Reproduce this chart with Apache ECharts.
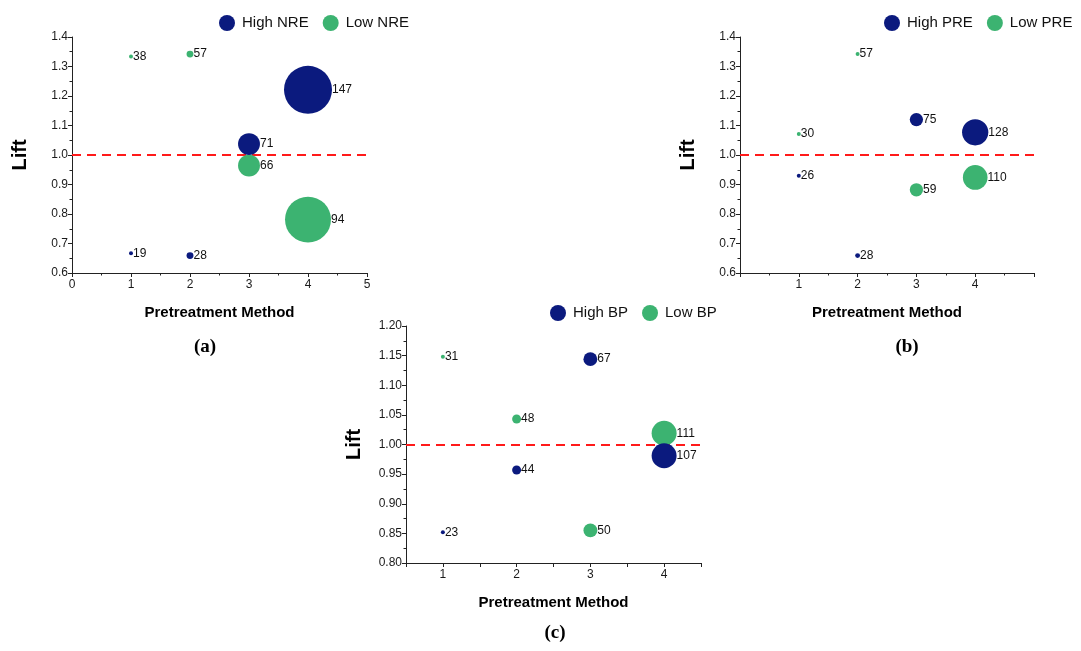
<!DOCTYPE html>
<html>
<head>
<meta charset="utf-8">
<script src="https://cdn.jsdelivr.net/npm/echarts@6/dist/echarts.min.js"></script>
<style>
html,body{margin:0;padding:0;background:#fff;}
#chart{width:1081px;height:651px;}
</style>
</head>
<body>
<div id="chart"></div>
<script>
// ---- data ----
var methods = [1, 2, 3, 4];

// panel (a) NRE
var liftHighNRE = [0.667, 0.659, 1.037, 1.221];
var labelHighNRE = [19, 28, 71, 147];
var weightHighNRE = [1, 3, 30, 144];
var liftLowNRE = [1.334, 1.342, 0.964, 0.781];
var labelLowNRE = [38, 57, 66, 94];
var weightLowNRE = [1, 3, 30, 132];

// panel (b) PRE
var liftHighPRE = [0.930, 0.659, 1.120, 1.077];
var labelHighPRE = [26, 28, 75, 128];
var weightHighPRE = [1, 1.5, 11, 43];
var liftLowPRE = [1.071, 1.342, 0.882, 0.924];
var labelLowPRE = [30, 57, 59, 110];
var weightLowPRE = [1, 1, 11, 38];

// panel (c) BP
var liftHighBP = [0.852, 0.957, 1.144, 0.981];
var labelHighBP = [23, 44, 67, 107];
var weightHighBP = [1, 5, 12, 39];
var liftLowBP = [1.148, 1.043, 0.855, 1.019];
var labelLowBP = [31, 48, 50, 111];
var weightLowBP = [1, 5, 12, 39];

var refLift = 1.0;
var panelTags = ['(a)', '(b)', '(c)'];

// ---- styles ----
var NAVY = '#0b1a7e';
var GREEN = '#3cb371';
var FONT = 'Liberation Sans, Arial, sans-serif';

function pts(ys, labels, weights) {
  return methods.map(function (m, i) { return [m, ys[i], labels[i], weights[i]]; });
}

function bubble(name, color, data, idx, withLine) {
  var s = {
    name: name,
    type: 'scatter',
    xAxisIndex: idx,
    yAxisIndex: idx,
    data: data,
    symbol: 'circle',
    symbolSize: function (v) { return 4 * Math.sqrt(v[3]); },
    itemStyle: { color: color, opacity: 1 },
    label: {
      show: true,
      position: 'right',
      distance: 0,
      formatter: function (p) { return p.value[2]; },
      color: '#111',
      fontSize: 12,
      fontFamily: FONT
    },
    emphasis: { disabled: true },
    z: color === NAVY ? 5 : 3
  };
  if (withLine) {
    s.markLine = {
      silent: true,
      symbol: ['none', 'none'],
      label: { show: false },
      lineStyle: { color: '#ff1a1a', type: [9, 6], width: 2 },
      data: [{ yAxis: refLift }],
      z: 1
    };
  }
  return s;
}

function yAxisDef(idx, min, max, interval, dec) {
  return {
    type: 'value', gridIndex: idx, min: min, max: max, interval: interval,
    name: 'Lift', nameLocation: 'middle', nameGap: 42, nameRotate: 90,
    nameTextStyle: { fontSize: 20, fontWeight: 'bold', color: '#000', fontFamily: FONT },
    axisLine: { show: true, lineStyle: { color: '#222', width: 1 } },
    axisTick: { show: true, length: 4, lineStyle: { color: '#222' } },
    minorTick: { show: true, splitNumber: 2, length: 2.5, lineStyle: { color: '#222' } },
    splitLine: { show: false },
    axisLabel: { fontSize: 12, color: '#1a1a1a', fontFamily: FONT, margin: 4,
      formatter: function (v) { return v.toFixed(dec); } }
  };
}

function xAxisDef(idx, min, max, interval, hideEnds, intOnly) {
  return {
    type: 'value', gridIndex: idx, min: min, max: max, interval: interval,
    name: 'Pretreatment Method', nameLocation: 'middle', nameGap: 32,
    nameTextStyle: { fontSize: 15, fontWeight: 'bold', color: '#000', fontFamily: FONT },
    axisLine: { show: true, onZero: false, lineStyle: { color: '#222', width: 1 } },
    axisTick: { show: true, length: 4, lineStyle: { color: '#222' } },
    minorTick: { show: !intOnly, splitNumber: 2, length: 2.5, lineStyle: { color: '#222' } },
    splitLine: { show: false },
    axisLabel: { fontSize: 12, color: '#1a1a1a', fontFamily: FONT, margin: 6,
      formatter: function (v) {
        if (intOnly && Math.abs(v - Math.round(v)) > 1e-6) return '';
        if (hideEnds && (v === min || v === max)) return '';
        return String(Math.round(v));
      } }
  };
}

function legendDef(left, top, names) {
  return {
    left: left, top: top, orient: 'horizontal',
    icon: 'circle', itemWidth: 16, itemHeight: 16, itemGap: 14,
    selectedMode: false,
    textStyle: { fontSize: 15, color: '#111', fontFamily: FONT, padding: [0, 0, 0, 2] },
    data: names
  };
}

var chart = echarts.init(document.getElementById('chart'), null, { renderer: 'canvas' });

chart.setOption({
  backgroundColor: '#fff',
  animation: false,
  legend: [
    legendDef(214, 10, ['High NRE', 'Low NRE']),
    legendDef(879, 10, ['High PRE', 'Low PRE']),
    legendDef(545, 300, ['High BP', 'Low BP'])
  ],
  grid: [
    { left: 72, top: 37, width: 295, height: 236 },
    { left: 740, top: 37, width: 294, height: 236 },
    { left: 406, top: 326, width: 295, height: 237 }
  ],
  xAxis: [
    xAxisDef(0, 0, 5, 1, false, false),
    xAxisDef(1, 0, 5, 1, true, false),
    xAxisDef(2, 0.5, 4.5, 0.5, false, true)
  ],
  yAxis: [
    yAxisDef(0, 0.6, 1.4, 0.1, 1),
    yAxisDef(1, 0.6, 1.4, 0.1, 1),
    yAxisDef(2, 0.8, 1.2, 0.05, 2)
  ],
  series: [
    bubble('High NRE', NAVY, pts(liftHighNRE, labelHighNRE, weightHighNRE), 0, true),
    bubble('Low NRE', GREEN, pts(liftLowNRE, labelLowNRE, weightLowNRE), 0, false),
    bubble('High PRE', NAVY, pts(liftHighPRE, labelHighPRE, weightHighPRE), 1, true),
    bubble('Low PRE', GREEN, pts(liftLowPRE, labelLowPRE, weightLowPRE), 1, false),
    bubble('High BP', NAVY, pts(liftHighBP, labelHighBP, weightHighBP), 2, true),
    bubble('Low BP', GREEN, pts(liftLowBP, labelLowBP, weightLowBP), 2, false)
  ],
  graphic: [
    { type: 'text', x: 205, y: 347, style: { text: panelTags[0], font: 'bold 19px "Liberation Serif", "Times New Roman", serif', fill: '#000', align: 'center', verticalAlign: 'middle' } },
    { type: 'text', x: 907, y: 347, style: { text: panelTags[1], font: 'bold 19px "Liberation Serif", "Times New Roman", serif', fill: '#000', align: 'center', verticalAlign: 'middle' } },
    { type: 'text', x: 555, y: 633, style: { text: panelTags[2], font: 'bold 19px "Liberation Serif", "Times New Roman", serif', fill: '#000', align: 'center', verticalAlign: 'middle' } }
  ]
});
</script>
</body>
</html>
